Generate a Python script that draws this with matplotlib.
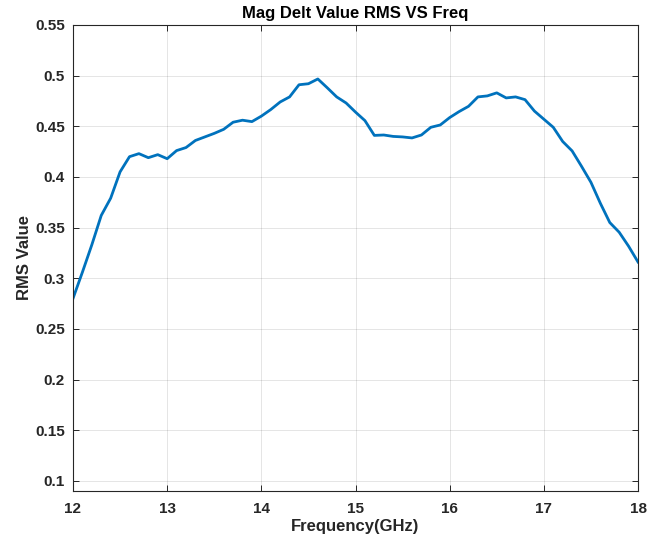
import matplotlib
matplotlib.use("Agg")
import matplotlib.pyplot as plt

# frequency samples (GHz) and RMS values
freq = [12.0, 12.1, 12.2, 12.3, 12.4, 12.5, 12.6, 12.7, 12.8, 12.9,
        13.0, 13.1, 13.2, 13.3, 13.4, 13.5, 13.6, 13.7, 13.8, 13.9,
        14.0, 14.1, 14.2, 14.3, 14.4, 14.5, 14.6, 14.7, 14.8, 14.9,
        15.0, 15.1, 15.2, 15.3, 15.4, 15.5, 15.6, 15.7, 15.8, 15.9,
        16.0, 16.1, 16.2, 16.3, 16.4, 16.5, 16.6, 16.7, 16.8, 16.9,
        17.0, 17.1, 17.2, 17.3, 17.4, 17.5, 17.6, 17.7, 17.8, 17.9, 18.0]
rms = [0.280, 0.306, 0.333, 0.362, 0.379, 0.405, 0.420, 0.423, 0.419, 0.422,
       0.418, 0.426, 0.429, 0.436, 0.4395, 0.443, 0.447, 0.454, 0.456, 0.4546,
       0.460, 0.4665, 0.474, 0.479, 0.491, 0.492, 0.4967, 0.488, 0.479, 0.473,
       0.464, 0.4556, 0.441, 0.4414, 0.440, 0.4395, 0.4385, 0.4414, 0.449, 0.4513,
       0.4586, 0.4645, 0.4697, 0.479, 0.480, 0.483, 0.478, 0.479, 0.4763, 0.465,
       0.457, 0.449, 0.435, 0.4257, 0.4105, 0.3947, 0.374, 0.355, 0.3454, 0.3316, 0.316]

xticks = [12, 13, 14, 15, 16, 17, 18]
yticks = [0.1, 0.15, 0.2, 0.25, 0.3, 0.35, 0.4, 0.45, 0.5, 0.55]
ytick_labels = ["0.1", "0.15", "0.2", "0.25", "0.3", "0.35", "0.4", "0.45", "0.5", "0.55"]

plt.rcParams["font.family"] = ["Liberation Sans", "DejaVu Sans"]
plt.rcParams["font.weight"] = "bold"

fig = plt.figure(figsize=(6.6, 5.43), dpi=100)
ax = fig.add_axes([0.1106, 0.0958, 0.8561, 0.8582])

ax.plot(freq, rms, color="#0072BD", linewidth=2.0)

ax.set_xlim(12, 18)
ax.set_ylim(0.09, 0.55)
ax.set_xticks(xticks)
ax.set_yticks(yticks)
ax.set_yticklabels(ytick_labels)
ax.grid(True, color="#000000", alpha=0.12, linewidth=0.6)
ax.tick_params(direction="in", top=True, right=True, length=4, width=0.7,
               colors="#262626", labelsize=11)
ax.tick_params(axis="x", pad=8)
ax.tick_params(axis="y", pad=6)
for lab in ax.get_xticklabels() + ax.get_yticklabels():
    lab.set_fontweight("bold")
for s in ax.spines.values():
    s.set_color("#262626")
    s.set_linewidth(0.8)

ax.set_title("Mag Delt Value RMS VS Freq", fontsize=12, fontweight="bold", pad=5)
ax.set_xlabel("Frequency(GHz)", fontsize=12, fontweight="bold", labelpad=2, color="#262626")
ax.set_ylabel("RMS Value", fontsize=12, fontweight="bold", labelpad=2, color="#262626")

fig.savefig("out.png", dpi=100)
